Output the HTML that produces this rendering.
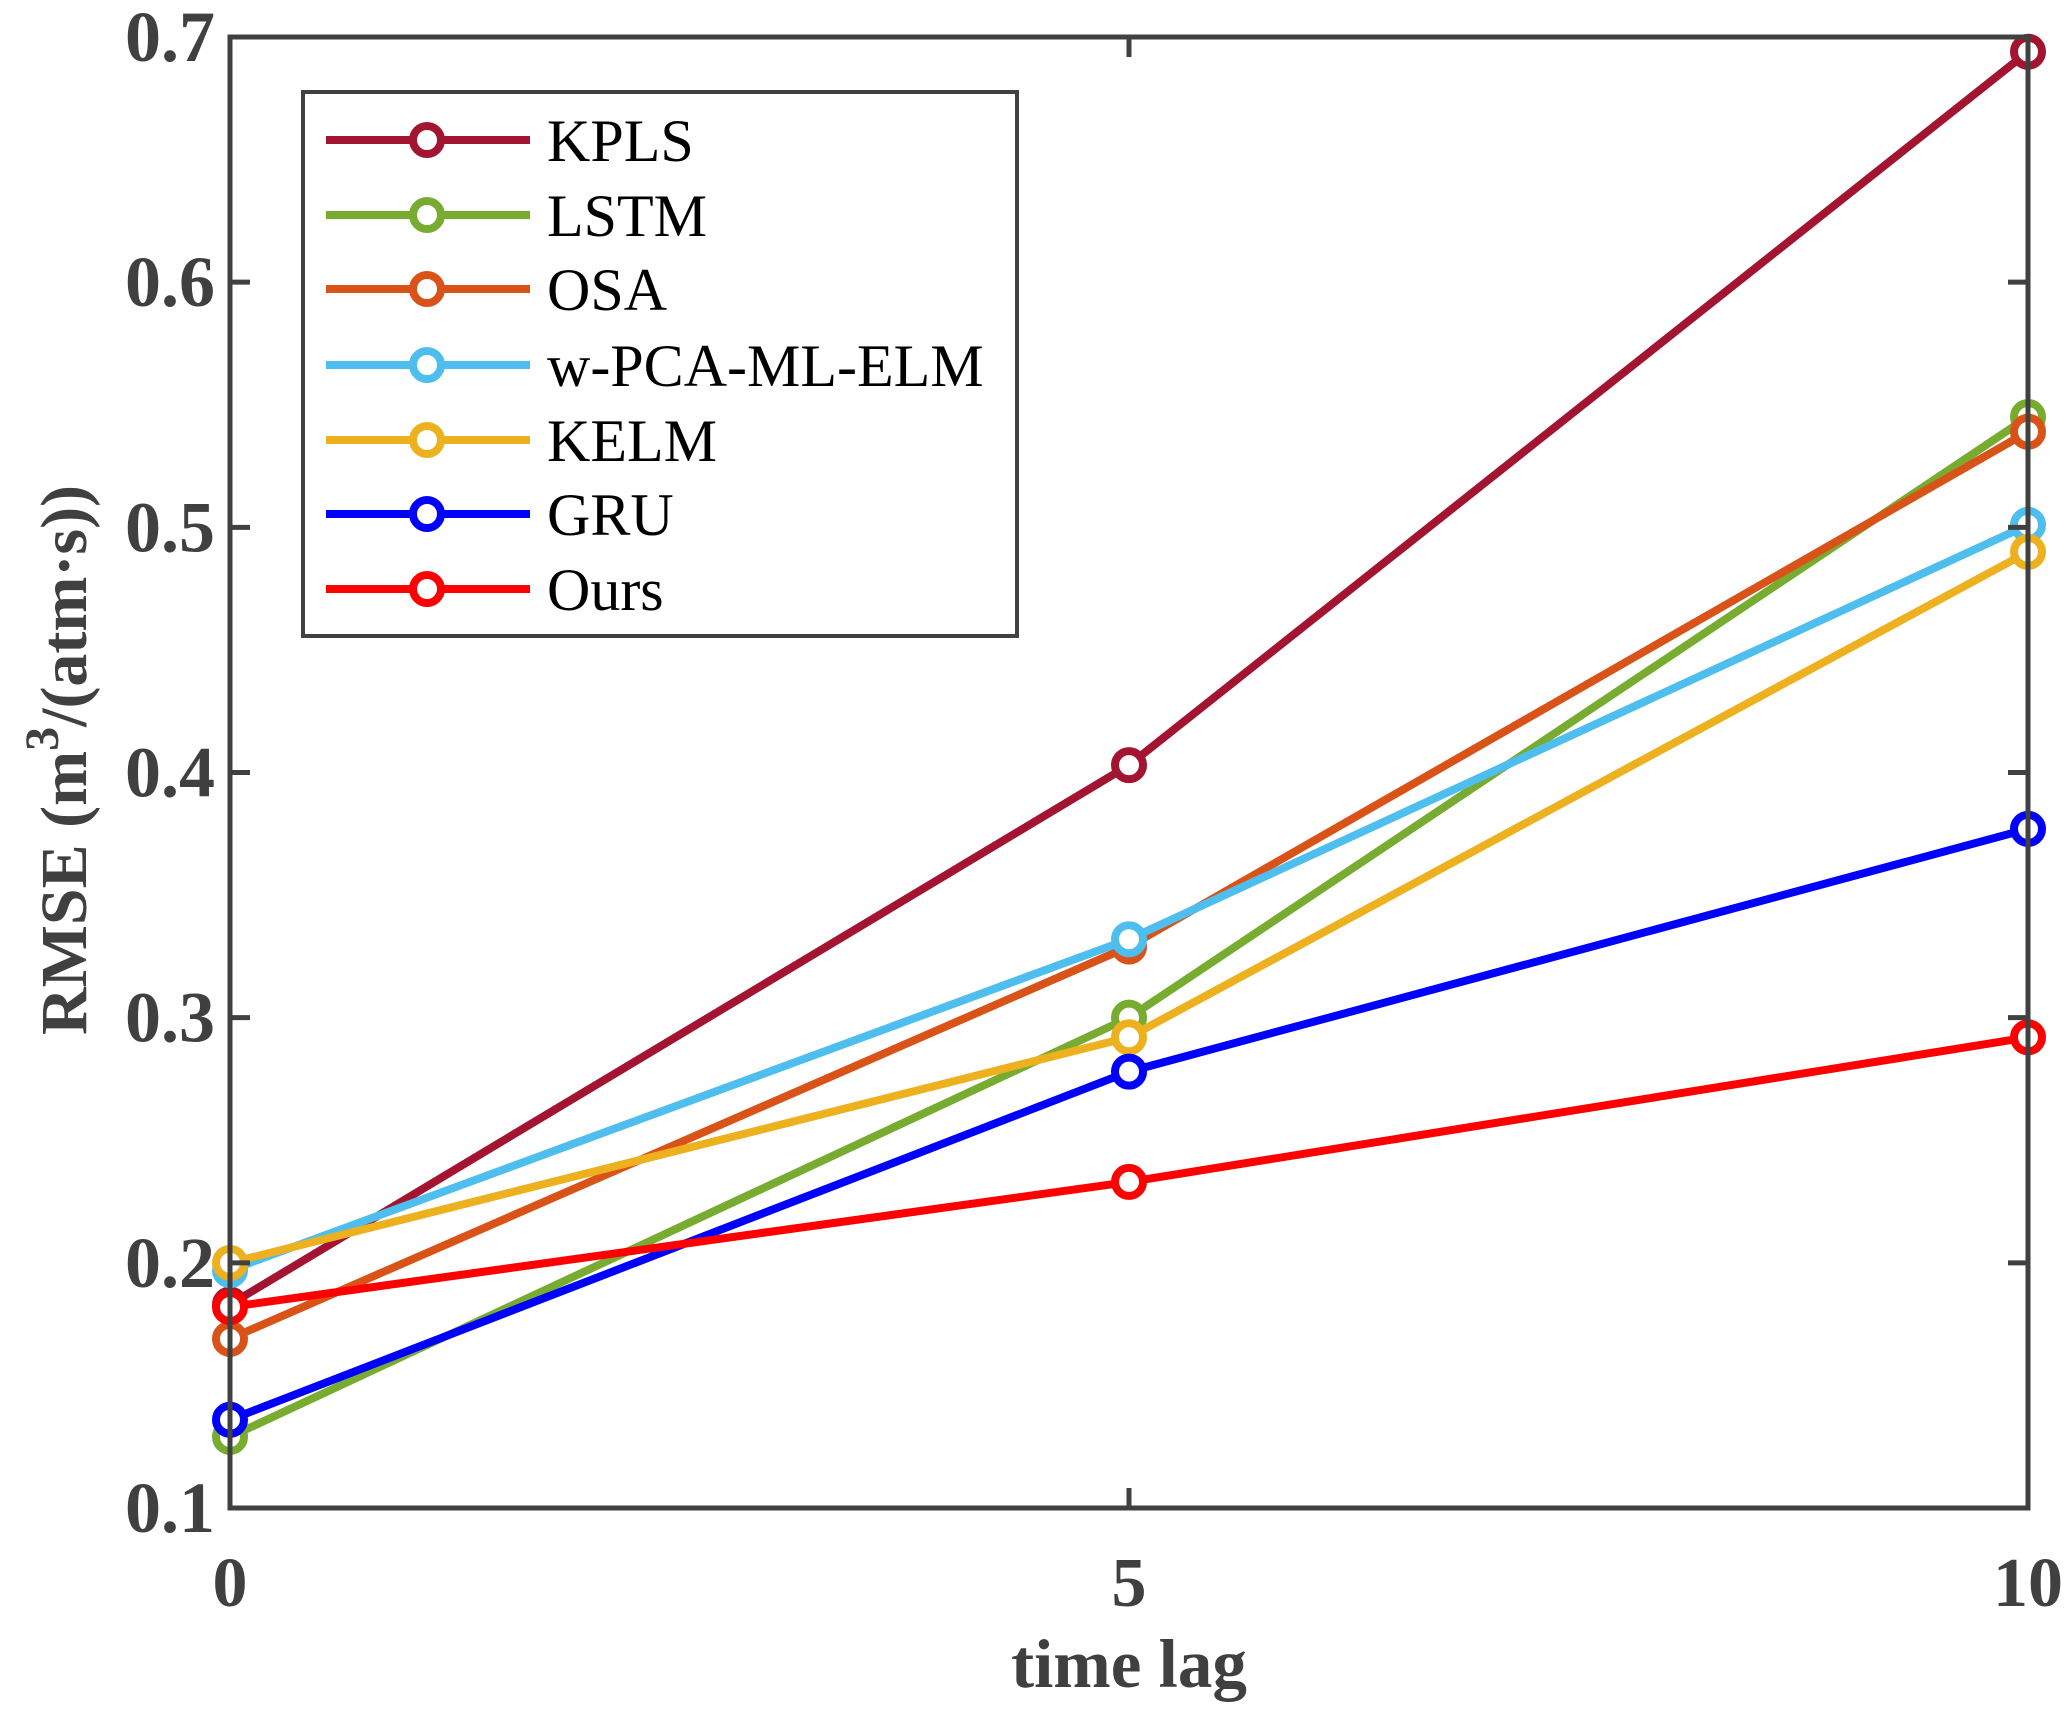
<!DOCTYPE html>
<html><head><meta charset="utf-8"><style>
html,body{margin:0;padding:0;background:#fff;}
svg{display:block;font-family:"Liberation Serif",serif;}
</style></head><body>
<svg id="chart" width="2072" height="1713" viewBox="0 0 2072 1713">
<rect width="2072" height="1713" fill="#fff"/>
<g id="series"></g>
<g id="axes"></g>
<g id="legend"></g>
</svg>
<script>
const xValues = [0, 5, 10];
const yTicks = [0.1, 0.2, 0.3, 0.4, 0.5, 0.6, 0.7];
const yTickLabels = ["0.1","0.2","0.3","0.4","0.5","0.6","0.7"];
const xTickLabels = ["0","5","10"];
const seriesNames = ["KPLS","LSTM","OSA","w-PCA-ML-ELM","KELM","GRU","Ours"];
const kpls = [0.183, 0.403, 0.694];
const lstm = [0.129, 0.300, 0.545];
const osa = [0.169, 0.329, 0.539];
const wpca = [0.197, 0.332, 0.501];
const kelm = [0.200, 0.292, 0.490];
const gru = [0.136, 0.278, 0.377];
const ours = [0.182, 0.233, 0.292];

const seriesData = [kpls, lstm, osa, wpca, kelm, gru, ours];
const colors = ["#A2142F","#77AC30","#D95319","#4DBEEE","#EDB120","#0000FF","#FF0000"];
const L=230,R=2028,T=37,B=1508;
const xs = v => L + (v-0)/(10-0)*(R-L);
const ys = v => B - (v-0.1)/(0.7-0.1)*(B-T);
const NS="http://www.w3.org/2000/svg";
function mk(tag, attrs, parent){const e=document.createElementNS(NS,tag);for(const k in attrs)e.setAttribute(k,attrs[k]);parent.appendChild(e);return e;}
const gS=document.getElementById('series'), gA=document.getElementById('axes'), gL=document.getElementById('legend');
const slug = n => n.toLowerCase().replace(/[^a-z0-9]+/g,'-');

seriesData.forEach((d,i)=>{
  const g=mk('g',{},gS);
  
  
  const pts=d.map((v,j)=>xs(xValues[j])+','+ys(v)).join(' ');
  const pl=mk('polyline',{points:pts,fill:'none',stroke:colors[i],'stroke-width':8,'stroke-linejoin':'round'},g);
  
  
  d.forEach((v,j)=>{
    const c=mk('circle',{cx:xs(xValues[j]),cy:ys(v),r:14,fill:'#fff',stroke:colors[i],'stroke-width':8},g);
    
    
  });
});

const box=mk('rect',{x:L,y:T,width:R-L,height:B-T,fill:'none',stroke:'#404040','stroke-width':5},gA);


yTicks.forEach((v,i)=>{
  const y=ys(v);
  mk('line',{x1:L,x2:L+20,y1:y,y2:y,stroke:'#404040','stroke-width':5},gA);
  mk('line',{x1:R,x2:R-20,y1:y,y2:y,stroke:'#404040','stroke-width':5},gA);
  const t=mk('text',{x:215,y:y+24,'text-anchor':'end','font-size':72,'font-weight':'bold',fill:'#404040'},gA);
  t.textContent=yTickLabels[i];
  
  
});
xValues.forEach((v,i)=>{
  const x=xs(v);
  mk('line',{x1:x,x2:x,y1:B,y2:B-20,stroke:'#404040','stroke-width':5},gA);
  mk('line',{x1:x,x2:x,y1:T,y2:T+20,stroke:'#404040','stroke-width':5},gA);
  const t=mk('text',{x:x,y:1606,'text-anchor':'middle','font-size':70,'font-weight':'bold',fill:'#404040'},gA);
  t.textContent=xTickLabels[i];
  
  
});
const xt=mk('text',{x:(L+R)/2,y:1687,'text-anchor':'middle','font-size':69,'font-weight':'bold',fill:'#404040'},gA);
xt.textContent='time lag';


const yt=mk('text',{x:0,y:0,'text-anchor':'middle','font-size':66,'font-weight':'bold',fill:'#404040',transform:'translate(86,760) rotate(-90)'},gA);
yt.innerHTML='RMSE (m<tspan dy="-28" font-size="48">3</tspan><tspan dy="28">/(atm·s))</tspan>';



const lb=mk('rect',{x:303,y:92,width:714,height:544,fill:'#fff',stroke:'#404040','stroke-width':4},gL);


const legY=[140,215,289,365,440,514,589];
seriesNames.forEach((n,i)=>{
  const g=mk('g',{},gL);
  
  
  const y=legY[i];
  mk('line',{x1:326,x2:530,y1:y,y2:y,stroke:colors[i],'stroke-width':8},g);
  mk('circle',{cx:427,cy:y,r:14,fill:'#fff',stroke:colors[i],'stroke-width':8},g);
  const t=mk('text',{x:547,y:y+21,'font-size':60,fill:'#000'},g);
  t.textContent=n;
});
</script>
</body></html>
